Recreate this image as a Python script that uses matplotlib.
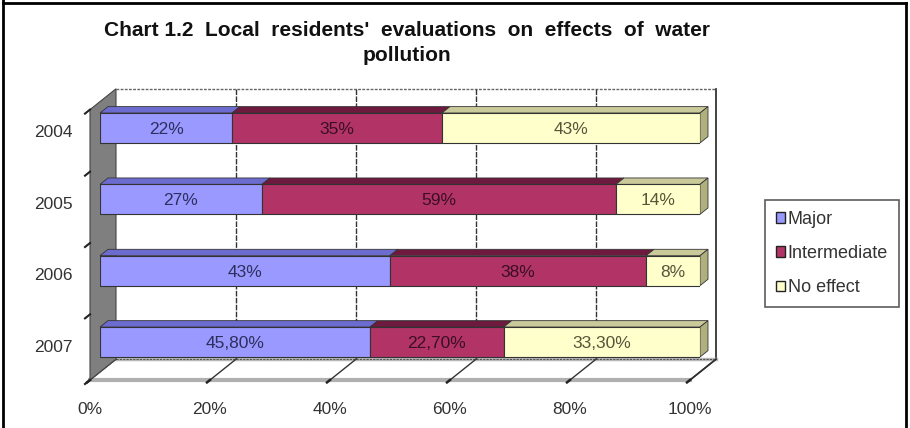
import matplotlib
matplotlib.use("Agg")
import matplotlib.pyplot as plt
from matplotlib.patches import Polygon, Patch
from matplotlib.lines import Line2D
from matplotlib.transforms import ScaledTranslation
import numpy as np

plt.rcParams['font.family'] = ['Liberation Sans', 'DejaVu Sans']

# ---- data ----
years = ["2004", "2005", "2006", "2007"]
series_names = ["Major", "Intermediate", "No effect"]
major = [22, 27, 43, 45.8]
intermediate = [35, 59, 38, 22.7]
no_effect = [43, 14, 8, 33.3]
label_major = ["22%", "27%", "43%", "45,80%"]
label_inter = ["35%", "59%", "38%", "22,70%"]
label_none = ["43%", "14%", "8%", "33,30%"]
xticks = [0, 20, 40, 60, 80, 100]
xtick_labels = ["0%", "20%", "40%", "60%", "80%", "100%"]

front_colors = ["#9999FF", "#B23466", "#FFFFCC"]
top_colors = ["#6C6CD0", "#6E1A3E", "#C9C99A"]
side_colors = ["#5858B0", "#5A1232", "#B0B07E"]
text_colors = ["#2E2E5E", "#3A0E24", "#55553A"]

FS = 12.5

W, H = 910, 428
fig = plt.figure(figsize=(W / 100, H / 100), dpi=100)

# axes = bar front plane
ax_l, ax_r = 100, 700          # px
ax_t, ax_b = 101.6, 372        # px (image y)
ax = fig.add_axes([ax_l / W, 1 - ax_b / H, (ax_r - ax_l) / W, (ax_b - ax_t) / H])
ymax, ymin = 3.42, -0.37
ax.set_xlim(0, 100)
ax.set_ylim(ymax, ymin)
ax.axis("off")

kx = 100 / (ax_r - ax_l)                  # data per px in x
ky = (ymax - ymin) / (ax_b - ax_t)        # data per px in y
slope = 0.8


def P(x, y, d):
    return (x + d * kx, y - slope * d * ky)


D_FRONT, D_BACK, D_BAR = -10, 16, 8
bh = 0.42

# back wall
bw = Polygon([P(0, ymin, D_BACK), P(100, ymin, D_BACK), P(100, ymax, D_BACK), P(0, ymax, D_BACK)],
             closed=True, facecolor="white", edgecolor="none", zorder=0, clip_on=False)
ax.add_patch(bw)
x0, y0 = P(0, ymin, D_BACK); x1, y1 = P(100, ymin, D_BACK)
ax.plot([x0, x1], [y0, y1], color="#666666", lw=1, ls=(0, (2, 1)), zorder=1, clip_on=False)
x0, y0 = P(100, ymin, D_BACK); x1, y1 = P(100, ymax, D_BACK)
ax.plot([x0, x1], [y0, y1], color="#222222", lw=1.2, zorder=1, clip_on=False)

# floor
fl = Polygon([P(0, ymax, D_FRONT), P(100, ymax, D_FRONT), P(100, ymax, D_BACK), P(0, ymax, D_BACK)],
             closed=True, facecolor="white", edgecolor="none", zorder=0.5, clip_on=False)
ax.add_patch(fl)
x0, y0 = P(0, ymax, D_BACK); x1, y1 = P(100, ymax, D_BACK)
ax.plot([x0, x1], [y0, y1], color="#BBBBBB", lw=2.5, zorder=1, clip_on=False)
ax.plot([x0, x1], [y0, y1], color="#555555", lw=0.8, ls=(0, (2, 1)), zorder=1.05, clip_on=False)
x0, y0 = P(0, ymax, D_FRONT); x1, y1 = P(100, ymax, D_FRONT)
ax.plot([x0, x1], [y0, y1], color="#B0B0B0", lw=3, zorder=1, clip_on=False)
x0, y0 = P(100, ymax, D_BACK); x1, y1 = P(100, ymax, D_FRONT)
ax.plot([x0, x1], [y0, y1], color="#222222", lw=1.2, zorder=1, clip_on=False)

# gridlines on back wall and floor
for xv in xticks:
    if 0 < xv < 100:
        a = P(xv, ymin, D_BACK); b = P(xv, ymax, D_BACK)
        ax.plot([a[0], b[0]], [a[1], b[1]], color="#333333", lw=1, ls=(0, (4, 1)), zorder=1.2, clip_on=False)
    a = P(xv, ymax, D_BACK); b = P(xv, ymax, D_FRONT)
    ax.plot([a[0], b[0]], [a[1], b[1]], color="#333333", lw=1, zorder=1.2, clip_on=False)
    c = P(xv, ymax, D_FRONT - 3)
    ax.plot([b[0], c[0]], [b[1], c[1]], color="#222222", lw=1.8, zorder=1.2, clip_on=False)

# left wall
lw_ = Polygon([P(0, ymin, D_FRONT), P(0, ymin, D_BACK), P(0, ymax, D_BACK), P(0, ymax, D_FRONT)],
              closed=True, facecolor="#7F7F7F", edgecolor="#444444", lw=0.8, zorder=1.5, clip_on=False)
ax.add_patch(lw_)
for yv in [ymin, 0.5, 1.5, 2.5, ymax]:
    a = P(0, yv, D_FRONT); b = P(0, yv, D_FRONT - 5)
    ax.plot([a[0], b[0]], [a[1], b[1]], color="#222222", lw=1.5, zorder=1.6, clip_on=False)

# bars
vals = np.array([major, intermediate, no_effect], dtype=float)
totals = vals.sum(axis=0)
norm = vals / totals * 100
labels = [label_major, label_inter, label_none]
ypos = np.arange(len(years))
for i in range(len(years)):
    left = 0.0
    for s in range(3):
        w = norm[s, i]
        r = left + w
        ax.barh(ypos[i], w, left=left, height=bh, color=front_colors[s], edgecolor="#333333",
                lw=0.8, zorder=3)
        top = Polygon([P(left, ypos[i] - bh / 2, 0), P(r, ypos[i] - bh / 2, 0),
                       P(r, ypos[i] - bh / 2, D_BAR), P(left, ypos[i] - bh / 2, D_BAR)],
                      closed=True, facecolor=top_colors[s], edgecolor="#333333", lw=0.6,
                      zorder=2.9, clip_on=False)
        ax.add_patch(top)
        if s == 2:
            side = Polygon([P(r, ypos[i] - bh / 2, 0), P(r, ypos[i] + bh / 2, 0),
                            P(r, ypos[i] + bh / 2, D_BAR), P(r, ypos[i] - bh / 2, D_BAR)],
                           closed=True, facecolor=side_colors[s], edgecolor="#333333", lw=0.6,
                           zorder=2.9, clip_on=False)
            ax.add_patch(side)
        ax.text(left + w / 2, ypos[i] + 0.02, labels[s][i], ha="center", va="center",
                fontsize=FS, color=text_colors[s], zorder=4)
        left = r

# category labels
off_y = ax.transData + ScaledTranslation(-0.27, -0.05, fig.dpi_scale_trans)
for i, yr in enumerate(years):
    ax.text(0, ypos[i], yr, ha="right", va="center", fontsize=FS, color="#333333",
            transform=off_y, clip_on=False)

# x tick labels
off_x = ax.transData + ScaledTranslation(0, -0.30, fig.dpi_scale_trans)
for xv, lab in zip(xticks, xtick_labels):
    px, py = P(xv, ymax, D_FRONT)
    ax.text(px, py, lab, ha="center", va="center", fontsize=FS, color="#333333",
            transform=off_x, clip_on=False)

# title
fig.text(407 / W, 1 - 43 / H,
         "Chart 1.2  Local  residents'  evaluations  on  effects  of  water\npollution",
         ha="center", va="center", fontsize=15, fontweight="bold", color="#111111", linespacing=1.4)

# legend
handles = [Patch(facecolor=c, edgecolor="#222222", lw=1) for c in front_colors]
leg = fig.legend(handles, series_names, loc="upper left", bbox_to_anchor=(765 / W, 1 - 200 / H),
                 frameon=True, fancybox=False, edgecolor="#333333", fontsize=13,
                 handlelength=0.5, handleheight=0.5, handletextpad=0.15, labelspacing=0.95,
                 borderpad=0.6, borderaxespad=0)
leg.get_frame().set_linewidth(1.2)
for t in leg.get_texts():
    t.set_color("#333333")

# figure border
for (xa, ya, xb, yb) in [(3, 0, 3, 428), (3, 3, 906, 3), (906, 3, 906, 428)]:
    fig.add_artist(Line2D([xa / W, xb / W], [1 - ya / H, 1 - yb / H], color="black", lw=2,
                          transform=fig.transFigure))

fig.savefig("out.png", dpi=100)
